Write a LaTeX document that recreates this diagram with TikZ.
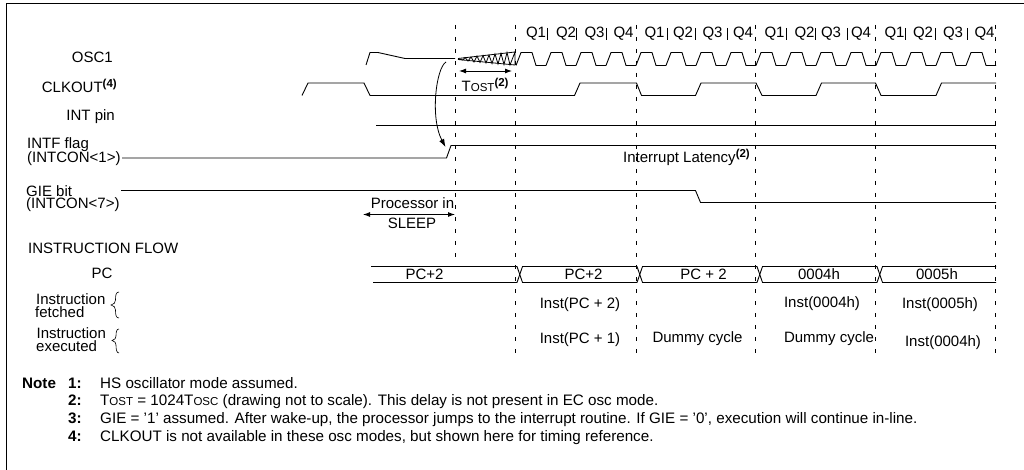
\documentclass[tikz,border=0pt]{standalone}
\usepackage{fontspec}
\setmainfont{Liberation Sans}
\usetikzlibrary{arrows.meta}
\newcommand{\smc}[2]{#1{\fontsize{11.5}{13}\selectfont #2}}
\newcommand{\supb}[1]{\raisebox{5pt}{\fontsize{11.5}{13}\selectfont\bfseries #1}}
\tikzset{
  x=1pt,y=-1pt,
  sig/.style={line width=0.9pt,line join=round},
  guide/.style={line width=0.9pt,dash pattern=on 4pt off 8pt},
  dim/.style={line width=0.9pt,{Latex[length=7pt,width=5pt]}-{Latex[length=7pt,width=5pt]}},
  txt/.style={inner sep=0pt,font=\fontsize{15}{17}\selectfont},
  lab/.style={txt,anchor=west},
  rlab/.style={txt,anchor=east},
  qbar/.style={line width=.7pt},
  note/.style={inner sep=0pt,anchor=base west,font=\fontsize{15.2}{17}\selectfont},
  noteb/.style={note,font=\fontsize{15.2}{17}\selectfont\bfseries},
}
\begin{document}
\begin{tikzpicture}
\useasboundingbox (0,0) rectangle (1024,470);
\draw[line width=0.9pt] (6.5,470) -- (6.5,3.5) -- (1024,3.5);
% guides
\draw[guide] (455,25) -- (455,257);
\foreach \x in {515.5,636.5,755.5,875.5,995.5} \draw[guide] (\x,25) -- (\x,353);
% Q labels
\foreach \n/\x/\t in {a/536/Q1,b/566/Q2,c/594.5/Q3,d/623.5/Q4,e/654.5/Q1,f/683/Q2,g/712.5/Q3,h/743/Q4,i/774.5/Q1,j/804.5/Q2,k/831/Q3,l/861/Q4,m/894.5/Q1,n/923/Q2,o/953/Q3,p/984.5/Q4}
  \node[txt,name=q\n] at (\x,34) {\t};
\foreach \x in {547.7,576,606,667,695,727,786,815,847,905,935,967}
  \draw[qbar] (\x,28) -- (\x,40);
% OSC1
\draw[sig] (366,65) -- (370,52.5) -- (378,52.5) -- (405,58.5) -- (455,58.5);
\draw[line width=0.8pt] (458,59)--(463,60)--(465,57.5)--(468,61)--(471,57)--(474,62)--(477,56)--(480,62.5)--(483,55.5)--(486,63)--(489,55)--(492,63.5)--(495,54)--(498,64)--(501,53.5)--(504,64.5)--(507,52.5)--(510,65)--(515,52)--(515,65);
\draw[line width=0.8pt] (458,58.5)--(515,52) (458,59.5)--(515,65);
\foreach \c in {516,636,756,876}{
  \foreach \k in {0,30,60,90}{
    \draw[sig] (\c+\k,65.5) -- (\c+\k+5,52.5) -- (\c+\k+16,52.5) -- (\c+\k+20,65.5) -- (\c+\k+30,65.5);
  }
}
% CLKOUT
\draw[sig] (302,95.5) -- (308,83) -- (364,83) -- (370,95.5) -- (574.5,95.5) -- (580,83) -- (636.5,83) -- (641.5,95.5) -- (695.5,95.5) -- (701,83) -- (756,83) -- (762,95.5) -- (816,95.5) -- (821.5,83) -- (875.5,83) -- (881,95.5) -- (936,95.5) -- (941.5,83) -- (996,83);
% INT pin
\draw[sig] (376,125.5) -- (996,125.5);
% INTF
\draw[sig] (122,158) -- (446.5,158) -- (451,145.5) -- (996,145.5);
% GIE
\draw[sig] (121,190.5) -- (695.5,190.5) -- (700.5,202.5) -- (996,202.5);
% curved arrow
\coordinate (cs) at (446,62);
\coordinate (ce) at (445.5,147);
\draw[line width=0.8pt,-{Latex[length=8pt,width=5.5pt]}] (cs) .. controls (436,68) and (430,118) .. (ce);
% Tost
\coordinate (ta) at (459,71);
\coordinate (tb) at (512,71);
\draw[dim] (ta) -- (tb);
\node[lab,name=tost] at (461.5,85) {\smc{T}{OST}\supb{(2)}};
% sleep
\coordinate (sa) at (363,214.5);
\coordinate (sb) at (455,214.5);
\draw[dim] (sa) -- (sb);
\node[txt,name=pin] at (412.5,203) {Processor in};
\node[txt,name=sleep] at (412,223) {SLEEP};
% Left labels
\node[rlab,name=l1] at (113,57.5) {OSC1};
\node[rlab,name=l2] at (117,86) {CLKOUT\supb{(4)}};
\node[rlab,name=l3] at (115,117) {INT pin};
\node[lab,name=l4] at (27,145) {INTF flag};
\node[lab,name=l5] at (27,158.5) {(INTCON<1>)};
\node[lab,name=l6] at (26,191) {GIE bit};
\node[lab,name=l7] at (26,204.5) {(INTCON<7>)};
\node[lab,name=l8] at (28,248) {INSTRUCTION FLOW};
\node[txt,name=l9] at (102,273.5) {PC};
\node[lab,name=l10] at (36,299) {Instruction};
\node[lab,name=l11] at (35,312) {fetched};
\node[lab,name=l12] at (36.5,333) {Instruction};
\node[lab,name=l13] at (36,346) {executed};
% braces
\draw[line width=.6pt] (119,292) .. controls (116,292) and (115.5,295) .. (115.5,300) .. controls (115.5,303) and (114,304) .. (111,305) .. controls (114,306) and (115.5,307) .. (115.5,310) .. controls (115.5,315) and (116,318) .. (119,318);
\draw[line width=.6pt] (119,329) .. controls (116.5,329) and (116,332) .. (116,336) .. controls (116,338.5) and (115,339.5) .. (112,340.5) .. controls (115,341.5) and (116,342.5) .. (116,345) .. controls (116,349) and (116.5,353) .. (119,353);
% PC bus
\draw[sig] (371,266.5) -- (517,266.5) -- (522.5,282.5) -- (637,282.5) -- (642.5,266.5) -- (757,266.5) -- (762.5,282.5) -- (877,282.5) -- (882.5,266.5) -- (996,266.5);
\draw[sig] (373,282.5) -- (517,282.5) -- (522.5,266.5) -- (637,266.5) -- (642.5,282.5) -- (757,282.5) -- (762.5,266.5) -- (877,266.5) -- (882.5,282.5) -- (996,282.5);
\node[txt,name=pc1] at (424.5,274) {PC+2};
\node[txt,name=pc2] at (583.5,274) {PC+2};
\node[txt,name=pc3] at (703.5,274) {PC + 2};
\node[txt,name=pc4] at (819,274) {0004h};
\node[txt,name=pc5] at (937,274) {0005h};
\node[txt,name=i1] at (580,305) {Inst(PC + 2)};
\node[txt,name=i2] at (580,340) {Inst(PC + 1)};
\node[txt,name=i3] at (697.5,339) {Dummy cycle};
\node[txt,name=i4] at (822,304) {Inst(0004h)};
\node[txt,name=i5] at (829,339) {Dummy cycle};
\node[txt,name=i6] at (940,305) {Inst(0005h)};
\node[txt,name=i7] at (943,343) {Inst(0004h)};
\node[txt,name=lat] at (686.5,157.5) {Interrupt Latency\supb{(2)}};
% notes
\node[noteb,name=n0] at (22,388) {Note};
\node[noteb,name=n1] at (68,388) {1:};
\node[noteb,name=n2] at (68,405.5) {2:};
\node[noteb,name=n3] at (68,423) {3:};
\node[noteb,name=n4] at (68,441) {4:};
\node[note,name=t1] at (100,388) {HS oscillator mode assumed.};
\node[note,name=t2] at (100,405.5) {\smc{T}{OST} = 1024\smc{T}{OSC} (drawing not to scale). This delay is not present in EC osc mode.};
\node[note,name=t3] at (100,423) {GIE = ’1’ assumed. After wake-up, the processor jumps to the interrupt routine. If GIE = ’0’, execution will continue in-line.};
\node[note,name=t4] at (100,441) {CLKOUT is not available in these osc modes, but shown here for timing reference.};
\end{tikzpicture}
\end{document}
